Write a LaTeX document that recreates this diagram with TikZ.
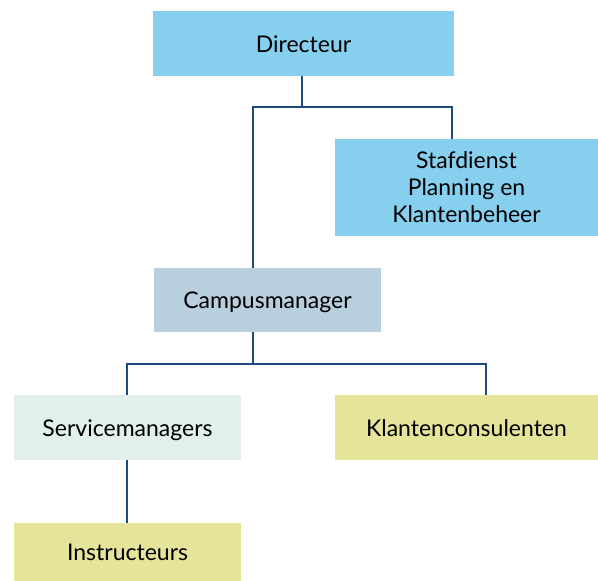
\documentclass[tikz,border=0pt]{standalone}
\usepackage{fontspec}
\setmainfont{Lato}
\usetikzlibrary{positioning}
\definecolor{skyblue}{HTML}{87CFEF}
\definecolor{greyblue}{HTML}{B8CFDE}
\definecolor{mintpale}{HTML}{E1F0EC}
\definecolor{khaki}{HTML}{E6E39A}
\definecolor{tieblue}{HTML}{1D4A80}
\tikzset{
    org/.style = {rectangle, inner sep=0pt, align=center, text=black,
                  font=\fontsize{23}{27}\selectfont},
    one/.style = {text height=20pt, text depth=3pt},
    top/.style = {org, fill=skyblue},
    mid/.style = {org, fill=greyblue},
    pale/.style = {org, fill=mintpale},
    base/.style = {org, fill=khaki},
    tie/.style = {draw=tieblue, line width=2.8pt, line join=miter}
}

\begin{document}
\begin{tikzpicture}[x=1pt,y=-1pt]
	\useasboundingbox (0,0) rectangle (598,581);
	% boxes
	\node[top, one, minimum width=301pt, minimum height=65pt] (dir) at (303.5,43.5) {Directeur};
	\node[top, minimum width=263pt, minimum height=97pt] (staf) at (466.5,187.5) {Stafdienst\\Planning en\\Klantenbeheer};
	\node[mid, one, minimum width=227pt, minimum height=64pt] (cm) at (267.5,300) {Campusmanager};
	\node[pale, one, minimum width=227pt, minimum height=65pt] (sm) at (127.5,427.5) {Servicemanagers};
	\node[base, one, minimum width=263pt, minimum height=65pt] (kc) at (466.5,427.5) {Klantenconsulenten};
	\node[base, one, minimum width=227pt, minimum height=58pt] (ins) at (127.5,552) {Instructeurs};

	% junctions
	\coordinate (j1) at (302,107);
	\coordinate (j1l) at (253,107);
	\coordinate (j1r) at (452,107);
	\coordinate (j2) at (253,364);
	\coordinate (j2l) at (127,364);
	\coordinate (j2r) at (486,364);

	\draw[tie] (j1 |- dir.south) -- (j1);
	\draw[tie] (j1l |- cm.north) -- (j1l) -- (j1r) -- (j1r |- staf.north);
	\draw[tie] (j2 |- cm.south) -- (j2);
	\draw[tie] (j2l |- sm.north) -- (j2l) -- (j2r) -- (j2r |- kc.north);
	\draw[tie] (j2l |- sm.south) -- (j2l |- ins.north);
\end{tikzpicture}
\end{document}
